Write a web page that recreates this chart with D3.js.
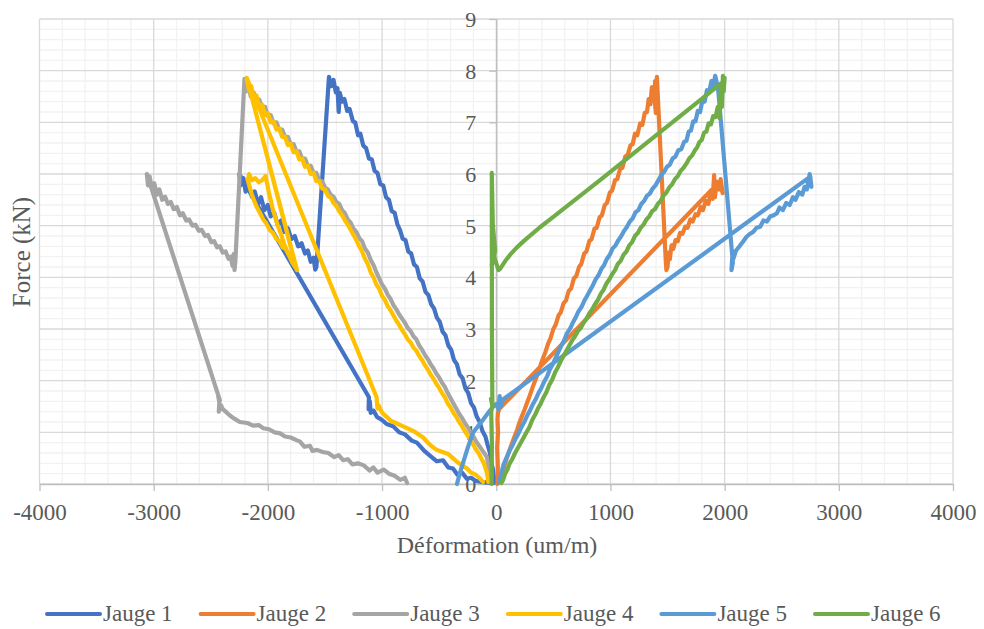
<!DOCTYPE html>
<html><head><meta charset="utf-8">
<script src="https://cdn.jsdelivr.net/npm/d3@7"></script>
<style>html,body{margin:0;padding:0;background:#fff;}svg{display:block;} text{font-family:"Liberation Serif","Tinos","Times New Roman","DejaVu Serif",serif;}</style>
</head><body><svg id="c" width="984" height="629"></svg>
<script>
const seriesNames = ["Jauge 1","Jauge 2","Jauge 3","Jauge 4","Jauge 5","Jauge 6"];
const seriesColors = ["#4472C4","#ED7D31","#A5A5A5","#FFC000","#5B9BD5","#70AD47"];
const xTicks = [-4000,-3000,-2000,-1000,0,1000,2000,3000,4000];
const yTicks = [0,1,2,3,4,5,6,7,8,9];
const xTitle = "Déformation (um/m)";
const yTitle = "Force (kN)";

const jauge1 = [
[-20,0.02],[-100,0.03],[-180,0.06],[-220,0.12],[-256,0.1],[-300,0.22],[-340,0.18],[-379,0.3],[-420,0.32],[-466,0.46],[-520,0.44],[-581,0.55],[-630,0.64],[-695,0.8],[-740,0.84],[-800,0.96],[-850,1.0],[-904,1.12],[-960,1.16],[-1000,1.24],[-1045,1.3],[-1075,1.42],[-1100,1.38],[-1107,1.6],[-1118,1.45],[-1115,1.68],
[-2250,6.0],
[-2240,5.78],[-2215,5.92],[-2195,5.66],[-2170,5.8],[-2140,5.56],[-2115,5.66],[-2085,5.42],[-2060,5.55],[-2030,5.3],[-2000,5.4],[-1975,5.18],[-1945,5.25],[-1915,5.02],[-1885,5.1],[-1855,4.88],[-1825,4.95],[-1795,4.74],[-1765,4.8],[-1735,4.6],[-1705,4.66],[-1675,4.46],[-1650,4.52],[-1625,4.3],[-1600,4.38],[-1585,4.15],[-1575,4.2],
[-1465,7.88],
[-1445,7.7],[-1425,7.82],[-1405,7.58],[-1390,7.66],[-1380,7.2],[-1370,7.57],[-1350,7.4],[-1330,7.45],[-1305,7.22],[-1285,7.26],[-1255,7.02],[-1235,7.0],[-1210,6.75],[-1190,6.78],[-1165,6.55],[-1140,6.5],[-1115,6.3],[-1090,6.28],[-1065,6.06],[-1040,6.02],[-1015,5.8],[-990,5.78],[-965,5.55],[-940,5.5],[-915,5.28],[-890,5.25],[-865,5.02],[-843,4.92],[-820,4.75],[-795,4.72],[-770,4.5],[-745,4.46],[-720,4.25],[-695,4.2],[-670,3.98],[-645,3.92],[-620,3.72],[-595,3.66],[-570,3.48],[-545,3.4],[-520,3.22],[-495,3.14],[-470,2.95],[-445,2.88],[-420,2.68],[-395,2.6],[-370,2.4],[-345,2.32],[-320,2.12],[-295,2.05],[-270,1.85],[-245,1.76],[-220,1.56],[-195,1.48],[-170,1.3],[-145,1.2],[-120,1.02],[-95,0.92],[-75,0.75],[-55,0.6],[-45,0.42],[-30,0.3],[-20,0.12],[-10,0.04]
];

const jauge2 = [
[10,0.0],[14,0.35],[8,0.7],[16,1.0],[11,1.25],[15,1.37],[25,1.45],
[1955,5.85],
[1983,5.63],[1965,5.9],[1948,5.7],[1930,5.85],[1915,5.55],[1908,5.98],[1895,5.52],[1875,5.6],[1857,5.42],[1835,5.48],[1810,5.3],[1790,5.36],[1765,5.2],[1745,5.22],[1720,5.08],[1700,5.12],[1675,4.96],[1655,4.98],[1630,4.84],[1610,4.86],[1590,4.7],[1570,4.72],[1550,4.55],[1535,4.62],[1520,4.35],[1510,4.48],[1500,4.2],[1490,4.14],[1485,4.3],
[1407,7.88],
[1400,7.65],[1390,7.8],[1398,7.18],[1380,7.6],[1363,7.68],[1350,7.35],[1335,7.45],[1320,7.2],[1300,7.18],[1280,6.95],[1260,6.98],[1235,6.75],[1215,6.78],[1195,6.58],[1175,6.55],[1150,6.36],[1130,6.34],[1105,6.12],[1085,6.1],[1060,5.9],[1040,5.88],[1015,5.68],[995,5.64],[970,5.44],[950,5.4],[925,5.2],[905,5.16],[880,4.96],[860,4.94],[835,4.74],[815,4.7],[790,4.5],[770,4.46],[745,4.26],[725,4.2],[700,4.02],[680,3.98],[655,3.78],[635,3.74],[610,3.55],[590,3.5],[565,3.32],[545,3.26],[520,3.08],[500,3.0],[475,2.82],[455,2.72],[430,2.55],[410,2.44],[385,2.28],[365,2.15],[340,2.0],[320,1.88],[295,1.72],[275,1.6],[250,1.45],[230,1.34],[205,1.2],[185,1.06],[160,0.92],[140,0.8],[115,0.65],[95,0.52],[75,0.38],[60,0.26],[45,0.14],[30,0.04]
];

const jauge3 = [
[-781,0.02],[-800,0.12],[-840,0.08],[-890,0.16],[-940,0.2],[-985,0.28],[-1040,0.22],[-1076,0.32],[-1110,0.26],[-1160,0.36],[-1210,0.4],[-1260,0.38],[-1300,0.48],[-1341,0.46],[-1380,0.56],[-1420,0.52],[-1470,0.6],[-1520,0.62],[-1570,0.66],[-1610,0.64],[-1631,0.74],[-1680,0.72],[-1718,0.82],[-1760,0.86],[-1800,0.9],[-1850,0.92],[-1893,0.98],[-1940,1.0],[-1990,1.06],[-2040,1.08],[-2080,1.14],[-2130,1.13],[-2180,1.18],[-2245,1.2],[-2290,1.26],[-2330,1.32],[-2359,1.38],[-2395,1.45],[-2410,1.52],[-2430,1.4],[-2425,1.58],[-2435,1.7],[-2420,1.62],
[-3060,6.0],
[-3050,5.78],[-3035,5.95],[-3015,5.7],[-2995,5.82],[-2970,5.6],[-2950,5.7],[-2925,5.5],[-2900,5.56],[-2875,5.42],[-2850,5.46],[-2825,5.32],[-2797,5.36],[-2770,5.2],[-2745,5.24],[-2715,5.1],[-2690,5.12],[-2660,5.0],[-2635,5.02],[-2605,4.9],[-2580,4.92],[-2550,4.8],[-2525,4.82],[-2495,4.68],[-2470,4.7],[-2445,4.58],[-2420,4.6],[-2395,4.48],[-2370,4.5],[-2345,4.36],[-2325,4.4],[-2310,4.22],[-2300,4.45],[-2292,4.14],[-2285,4.3],
[-2205,7.84],
[-2190,7.6],[-2170,7.72],[-2150,7.5],[-2125,7.58],[-2100,7.4],[-2075,7.44],[-2050,7.28],[-2025,7.3],[-2000,7.12],[-1975,7.14],[-1950,6.98],[-1925,7.0],[-1900,6.86],[-1875,6.86],[-1850,6.72],[-1825,6.72],[-1800,6.58],[-1775,6.58],[-1750,6.44],[-1725,6.44],[-1700,6.3],[-1675,6.3],[-1650,6.16],[-1625,6.16],[-1600,6.02],[-1575,6.02],[-1550,5.88],[-1525,5.86],[-1500,5.74],[-1475,5.7],[-1450,5.6],[-1425,5.56],[-1400,5.46],[-1375,5.42],[-1350,5.3],[-1325,5.24],[-1300,5.12],[-1275,5.06],[-1250,4.94],[-1225,4.88],[-1200,4.76],[-1175,4.7],[-1150,4.56],[-1125,4.48],[-1100,4.34],[-1075,4.24],[-1050,4.1],[-1025,3.98],[-1000,3.86],[-975,3.78],[-950,3.66],[-925,3.58],[-900,3.46],[-875,3.38],[-850,3.28],[-825,3.2],[-800,3.12],[-775,3.02],[-750,2.96],[-725,2.86],[-700,2.8],[-675,2.68],[-650,2.6],[-625,2.5],[-600,2.42],[-575,2.32],[-550,2.24],[-525,2.14],[-500,2.06],[-475,1.96],[-450,1.88],[-425,1.76],[-400,1.66],[-375,1.56],[-350,1.46],[-325,1.36],[-300,1.28],[-275,1.18],[-250,1.1],[-225,1.0],[-200,0.92],[-175,0.82],[-150,0.74],[-125,0.66],[-100,0.58],[-82,0.52],[-70,0.36],[-60,0.24],[-55,0.12]
];

const jauge4 = [
[-116,0.04],[-150,0.12],[-180,0.18],[-220,0.22],[-256,0.3],[-300,0.36],[-340,0.42],[-380,0.5],[-420,0.58],[-470,0.62],[-520,0.66],[-560,0.72],[-600,0.8],[-640,0.9],[-680,0.96],[-720,1.02],[-760,1.06],[-800,1.1],[-840,1.14],[-880,1.18],[-920,1.22],[-960,1.3],[-1000,1.38],[-1030,1.52],[-1040,1.46],[-1048,1.68],
[-2185,7.86],
[-1745,4.14],
[-1760,4.22],[-1790,4.4],[-1815,4.42],[-1845,4.55],[-1870,4.58],[-1900,4.7],[-1925,4.74],[-1955,4.86],[-1985,4.92],[-2015,5.05],[-2040,5.12],[-2070,5.25],[-2095,5.35],[-2120,5.48],[-2140,5.6],[-2160,5.75],[-2175,5.88],[-2165,6.0],
[-2140,5.88],[-2110,5.92],[-2080,5.84],[-2050,5.88],[-2020,5.96],[-2005,5.8],[-1990,5.62],[-1975,5.5],[-1955,5.3],[-1935,5.16],[-1910,4.98],[-1885,4.84],[-1860,4.66],[-1835,4.52],[-1810,4.4],[-1785,4.28],[-1760,4.2],[-1750,4.16],
[-2185,7.86],
[-2165,7.62],[-2145,7.7],[-2125,7.45],[-2100,7.52],[-2075,7.3],[-2050,7.34],[-2025,7.14],[-2000,7.18],[-1975,7.0],[-1950,7.02],[-1925,6.86],[-1900,6.88],[-1875,6.72],[-1850,6.72],[-1825,6.56],[-1800,6.58],[-1775,6.42],[-1750,6.44],[-1725,6.28],[-1700,6.3],[-1675,6.14],[-1650,6.16],[-1625,6.0],[-1600,6.02],[-1575,5.86],[-1550,5.86],[-1525,5.72],[-1500,5.7],[-1475,5.58],[-1450,5.54],[-1425,5.44],[-1400,5.38],[-1375,5.28],[-1350,5.2],[-1325,5.1],[-1300,5.02],[-1275,4.92],[-1250,4.82],[-1225,4.72],[-1200,4.6],[-1175,4.5],[-1150,4.36],[-1125,4.26],[-1100,4.1],[-1075,4.0],[-1050,3.86],[-1025,3.78],[-1000,3.64],[-975,3.56],[-950,3.44],[-925,3.36],[-900,3.26],[-875,3.16],[-850,3.08],[-825,2.98],[-800,2.9],[-775,2.8],[-750,2.74],[-725,2.64],[-700,2.58],[-675,2.48],[-650,2.4],[-625,2.3],[-600,2.22],[-575,2.12],[-550,2.04],[-525,1.94],[-500,1.86],[-475,1.76],[-450,1.68],[-425,1.56],[-400,1.48],[-375,1.38],[-350,1.3],[-325,1.2],[-300,1.12],[-275,1.02],[-250,0.94],[-225,0.84],[-200,0.76],[-175,0.66],[-150,0.58],[-128,0.48],[-108,0.4],[-94,0.3],[-82,0.22],[-75,0.12],[-70,0.04]
];

const jauge5 = [
[-344,0.0],[-320,0.2],[-292,0.4],[-250,0.7],[-204,0.99],[-160,1.12],[-117,1.24],[-70,1.38],[-29,1.49],[0,1.55],[20,1.45],[30,1.7],[40,1.5],[50,1.62],
[2750,5.95],
[2760,5.75],[2745,6.0],[2720,5.7],[2700,5.75],[2680,5.6],[2650,5.65],[2620,5.5],[2598,5.55],[2570,5.4],[2540,5.44],[2510,5.3],[2480,5.35],[2458,5.24],[2430,5.2],[2400,5.18],[2370,5.08],[2340,5.1],[2311,4.98],[2280,4.96],[2250,4.88],[2220,4.84],[2190,4.78],[2164,4.7],[2130,4.6],[2100,4.52],[2077,4.36],[2070,4.5],[2060,4.14],[2072,4.28],
[1945,7.6],[1930,7.78],[1917,7.9],
[1900,7.68],[1885,7.8],[1865,7.6],[1845,7.62],[1825,7.4],[1805,7.42],[1785,7.2],[1765,7.22],[1745,7.02],[1725,7.02],[1705,6.84],[1685,6.82],[1665,6.64],[1645,6.62],[1620,6.48],[1595,6.46],[1570,6.34],[1545,6.3],[1520,6.18],[1495,6.14],[1470,6.04],[1445,5.98],[1420,5.88],[1395,5.78],[1370,5.72],[1345,5.62],[1320,5.58],[1295,5.48],[1270,5.42],[1245,5.3],[1220,5.26],[1195,5.14],[1170,5.08],[1145,4.98],[1120,4.9],[1095,4.8],[1070,4.72],[1045,4.62],[1020,4.56],[995,4.44],[970,4.36],[945,4.24],[920,4.16],[895,4.04],[870,3.96],[845,3.84],[820,3.74],[795,3.64],[770,3.54],[745,3.42],[720,3.34],[695,3.22],[670,3.12],[645,3.0],[620,2.92],[595,2.78],[570,2.68],[545,2.56],[520,2.44],[495,2.32],[470,2.22],[445,2.08],[420,1.98],[395,1.86],[370,1.76],[345,1.64],[320,1.54],[295,1.42],[270,1.32],[245,1.2],[220,1.1],[195,0.98],[170,0.88],[145,0.76],[120,0.66],[100,0.56],[80,0.46],[62,0.36],[48,0.24],[35,0.12],[28,0.03]
];

const jauge6 = [
[-40,0.0],[-38,0.8],[-44,1.4],[-30,1.55],[-46,1.65],[-34,1.5],[-38,3.0],[-39,6.02],[-30,5.0],[-10,4.52],[-40,4.22],[-34,4.5],[20,4.14],[32,4.16],[80,4.32],[130,4.46],[181,4.58],[250,4.72],[320,4.85],[383,4.97],[500,5.17],[909,5.88],[1983,7.78],[2000,7.86],
[1992,7.6],[1985,7.9],[1976,7.3],[1968,7.72],[1955,7.08],[1940,7.3],[1920,7.1],[1900,7.12],[1880,6.96],[1860,6.98],[1840,6.82],[1820,6.8],[1800,6.66],[1780,6.62],[1760,6.52],[1740,6.46],[1715,6.36],[1690,6.3],[1665,6.2],[1640,6.12],[1615,6.06],[1590,5.96],[1565,5.9],[1540,5.8],[1515,5.74],[1490,5.64],[1465,5.58],[1440,5.48],[1415,5.42],[1390,5.32],[1365,5.28],[1340,5.18],[1315,5.12],[1290,5.02],[1265,4.96],[1240,4.86],[1215,4.8],[1190,4.68],[1165,4.62],[1140,4.5],[1115,4.44],[1090,4.32],[1065,4.26],[1040,4.14],[1015,4.06],[990,3.96],[965,3.88],[940,3.76],[915,3.68],[890,3.56],[865,3.48],[840,3.38],[815,3.3],[790,3.2],[765,3.12],[740,3.02],[715,2.96],[690,2.86],[665,2.78],[640,2.68],[615,2.58],[590,2.48],[565,2.38],[540,2.26],[515,2.16],[490,2.02],[465,1.92],[440,1.78],[415,1.68],[390,1.56],[365,1.46],[340,1.34],[315,1.24],[290,1.1],[265,1.0],[240,0.9],[215,0.8],[190,0.7],[165,0.6],[140,0.48],[118,0.4],[98,0.28],[78,0.2],[60,0.08],[45,0.02]
];

const allSeries = [jauge1,jauge2,jauge3,jauge4,jauge5,jauge6];

const svg = d3.select("#c");
const L=39.5, R=953, T=19, B=484;
const x = d3.scaleLinear().domain([-4000,4000]).range([L,R]);
const y = d3.scaleLinear().domain([0,9]).range([B,T]);
const font = '"Liberation Serif","Tinos","Times New Roman","DejaVu Serif",serif';
const txt = "#595959";

const xMinor = d3.range(-4000,4001,200).filter(v=>v%1000!==0);
const yMinor = d3.range(1,45).map(i=>i/5).filter(v=>Math.abs(v-Math.round(v))>1e-6);
const g = svg.append("g");
g.selectAll("line.xm").data(xMinor).join("line").attr("x1",d=>x(d)).attr("x2",d=>x(d)).attr("y1",T).attr("y2",B).attr("stroke","#f2f2f2").attr("stroke-width",1.3);
g.selectAll("line.ym").data(yMinor).join("line").attr("y1",d=>y(d)).attr("y2",d=>y(d)).attr("x1",L).attr("x2",R).attr("stroke","#f2f2f2").attr("stroke-width",1.3);
g.selectAll("line.xM").data(xTicks).join("line").attr("x1",d=>x(d)).attr("x2",d=>x(d)).attr("y1",T).attr("y2",B).attr("stroke","#d9d9d9").attr("stroke-width",1.3);
g.selectAll("line.yM").data(yTicks).join("line").attr("y1",d=>y(d)).attr("y2",d=>y(d)).attr("x1",L).attr("x2",R).attr("stroke","#d9d9d9").attr("stroke-width",1.3);

const xAxis = d3.axisBottom(x).tickValues(xTicks).tickSize(7).tickSizeOuter(0).tickFormat(d=>String(d));
const xa = svg.append("g").attr("transform",`translate(0,${y(0)})`).call(xAxis).attr("font-family",null);
xa.select(".domain").attr("stroke","#bfbfbf").attr("stroke-width",1.5);
xa.selectAll(".tick line").attr("stroke","#bfbfbf").attr("stroke-width",1.3);
xa.selectAll(".tick text").style("font-family",font).attr("font-size",23).attr("fill",txt).attr("y",36).attr("dy",null);

const yAxis = d3.axisLeft(y).tickValues(yTicks).tickSize(7).tickSizeOuter(0).tickFormat(d=>String(d));
const ya = svg.append("g").attr("transform",`translate(${x(0)},0)`).call(yAxis).attr("font-family",null);
ya.select(".domain").attr("stroke","#bfbfbf").attr("stroke-width",1.5);
ya.selectAll(".tick line").attr("stroke","#bfbfbf").attr("stroke-width",1.3);
ya.selectAll(".tick text").style("font-family",font).attr("font-size",22).attr("fill",txt).attr("x",-20).attr("dy","0.34em");

svg.append("text").attr("x",497).attr("y",553).attr("text-anchor","middle").style("font-family",font).attr("font-size",24).attr("fill",txt).text(xTitle);
svg.append("text").attr("transform","translate(30,252) rotate(-90)").attr("text-anchor","middle").style("font-family",font).attr("font-size",25).attr("fill",txt).text(yTitle);

const line = d3.line().x(d=>x(d[0])).y(d=>y(d[1]));
svg.append("g").selectAll("path").data(allSeries).join("path")
  .attr("d",line).attr("fill","none")
  .attr("stroke",(d,i)=>seriesColors[i]).attr("stroke-width",4.2)
  .attr("stroke-linejoin","round").attr("stroke-linecap","round");

const lg = svg.append("g");
seriesNames.forEach((n,i)=>{
  const x0 = 47 + i*153.6;
  lg.append("line").attr("x1",x0).attr("x2",x0+53).attr("y1",614).attr("y2",614).attr("stroke",seriesColors[i]).attr("stroke-width",4).attr("stroke-linecap","round");
  lg.append("text").attr("x",x0+56).attr("y",621).style("font-family",font).attr("font-size",23).attr("fill",txt).text(n);
});
</script></body></html>
